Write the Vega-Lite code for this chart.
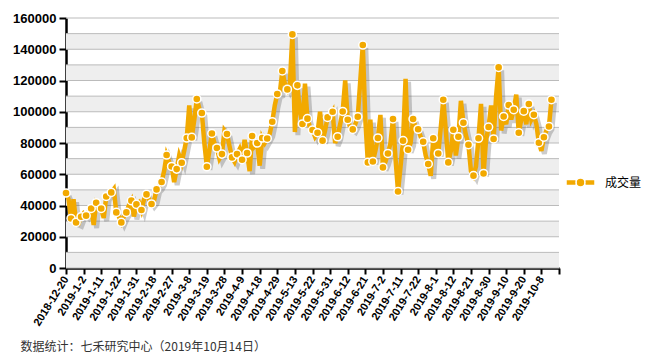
{
  "$schema": "https://vega.github.io/schema/vega-lite/v6.json",
  "width": 493,
  "height": 250,
  "autosize": {"type": "none"},
  "padding": {"left": 66, "top": 18, "right": 94, "bottom": 92},
  "background": "white",
  "config": {
    "view": {"stroke": null},
    "font": "Liberation Sans",
    "axis": {"labelOverlap": false, "labelBound": false, "labelFlush": false}
  },
  "title": {
    "text": "数据统计：七禾研究中心（2019年10月14日）",
    "orient": "bottom",
    "anchor": "start",
    "frame": "bounds",
    "font": "Noto Sans CJK SC",
    "fontSize": 12,
    "fontWeight": "normal",
    "color": "#333333",
    "offset": 15,
    "dx": 8
  },
  "datasets": {
    "bands": [
      {"lo": 0, "hi": 10000}, {"lo": 20000, "hi": 30000}, {"lo": 40000, "hi": 50000},
      {"lo": 60000, "hi": 70000}, {"lo": 80000, "hi": 90000}, {"lo": 100000, "hi": 110000},
      {"lo": 120000, "hi": 130000}, {"lo": 140000, "hi": 150000}
    ],
    "grid": [
      {"g": 0}, {"g": 10000}, {"g": 20000}, {"g": 30000}, {"g": 40000}, {"g": 50000},
      {"g": 60000}, {"g": 70000}, {"g": 80000}, {"g": 90000}, {"g": 100000}, {"g": 110000},
      {"g": 120000}, {"g": 130000}, {"g": 140000}, {"g": 150000}, {"g": 160000}
    ],
    "volume": [
      {"n":0,"v":48000},{"n":1,"v":44000},{"n":2,"v":31700},{"n":3,"v":44000},{"n":4,"v":29200},
      {"n":5,"v":28500},{"n":6,"v":32800},{"n":7,"v":35000},{"n":8,"v":33500},{"n":9,"v":36000},
      {"n":10,"v":38100},{"n":11,"v":27500},{"n":12,"v":41800},{"n":13,"v":40000},{"n":14,"v":38100},
      {"n":15,"v":32000},{"n":16,"v":45800},{"n":17,"v":47000},{"n":18,"v":48400},{"n":19,"v":50500},
      {"n":20,"v":35600},{"n":21,"v":33000},{"n":22,"v":29200},{"n":23,"v":33000},{"n":24,"v":35600},
      {"n":25,"v":40000},{"n":26,"v":43100},{"n":27,"v":33000},{"n":28,"v":40700},{"n":29,"v":42000},
      {"n":30,"v":37100},{"n":31,"v":44000},{"n":32,"v":47100},{"n":33,"v":44000},{"n":34,"v":41000},
      {"n":35,"v":43000},{"n":36,"v":50300},{"n":37,"v":52000},{"n":38,"v":55000},{"n":39,"v":62000},
      {"n":40,"v":72300},{"n":41,"v":68000},{"n":42,"v":65000},{"n":43,"v":55000},{"n":44,"v":63300},
      {"n":45,"v":72000},{"n":46,"v":67400},{"n":47,"v":75000},{"n":48,"v":83200},{"n":49,"v":104000},
      {"n":50,"v":83600},{"n":51,"v":95000},{"n":52,"v":108200},{"n":53,"v":102000},{"n":54,"v":99200},
      {"n":55,"v":80000},{"n":56,"v":64800},{"n":57,"v":75000},{"n":58,"v":86100},{"n":59,"v":80000},
      {"n":60,"v":76800},{"n":61,"v":70000},{"n":62,"v":72900},{"n":63,"v":88000},{"n":64,"v":85800},
      {"n":65,"v":78000},{"n":66,"v":70800},{"n":67,"v":68000},{"n":68,"v":72900},{"n":69,"v":76000},
      {"n":70,"v":69300},{"n":71,"v":82000},{"n":72,"v":73600},{"n":73,"v":62000},{"n":74,"v":84500},
      {"n":75,"v":78000},{"n":76,"v":80000},{"n":77,"v":65500},{"n":78,"v":83200},{"n":79,"v":80000},
      {"n":80,"v":82900},{"n":81,"v":86000},{"n":82,"v":93600},{"n":83,"v":104000},{"n":84,"v":111400},
      {"n":85,"v":112000},{"n":86,"v":126100},{"n":87,"v":118000},{"n":88,"v":114300},{"n":89,"v":118000},
      {"n":90,"v":149500},{"n":91,"v":87000},{"n":92,"v":116900},{"n":93,"v":100000},{"n":94,"v":92200},
      {"n":95,"v":118000},{"n":96,"v":95600},{"n":97,"v":90000},{"n":98,"v":88300},{"n":99,"v":84000},
      {"n":100,"v":86600},{"n":101,"v":100000},{"n":102,"v":81500},{"n":103,"v":88000},{"n":104,"v":96400},
      {"n":105,"v":97000},{"n":106,"v":100000},{"n":107,"v":80000},{"n":108,"v":84000},{"n":109,"v":92000},
      {"n":110,"v":100200},{"n":111,"v":120000},{"n":112,"v":94900},{"n":113,"v":90000},{"n":114,"v":88700},
      {"n":115,"v":92000},{"n":116,"v":96800},{"n":117,"v":120000},{"n":118,"v":142700},{"n":119,"v":95000},
      {"n":120,"v":67600},{"n":121,"v":95000},{"n":122,"v":68200},{"n":123,"v":75000},{"n":124,"v":83200},
      {"n":125,"v":98000},{"n":126,"v":64400},{"n":127,"v":68000},{"n":128,"v":73300},{"n":129,"v":80000},
      {"n":130,"v":95400},{"n":131,"v":70000},{"n":132,"v":49000},{"n":133,"v":65000},{"n":134,"v":81500},
      {"n":135,"v":121000},{"n":136,"v":75700},{"n":137,"v":80000},{"n":138,"v":95400},{"n":139,"v":90000},
      {"n":140,"v":88800},{"n":141,"v":84000},{"n":142,"v":80800},{"n":143,"v":72000},{"n":144,"v":66600},
      {"n":145,"v":59000},{"n":146,"v":83000},{"n":147,"v":78000},{"n":148,"v":73300},{"n":149,"v":90000},
      {"n":150,"v":107700},{"n":151,"v":88000},{"n":152,"v":67600},{"n":153,"v":75000},{"n":154,"v":88500},
      {"n":155,"v":72000},{"n":156,"v":84000},{"n":157,"v":107000},{"n":158,"v":93000},{"n":159,"v":85000},
      {"n":160,"v":78900},{"n":161,"v":62000},{"n":162,"v":59100},{"n":163,"v":65000},{"n":164,"v":83000},
      {"n":165,"v":105000},{"n":166,"v":60500},{"n":167,"v":82000},{"n":168,"v":90200},{"n":169,"v":104000},
      {"n":170,"v":82600},{"n":171,"v":110000},{"n":172,"v":128400},{"n":173,"v":88000},{"n":174,"v":97000},
      {"n":175,"v":92000},{"n":176,"v":104300},{"n":177,"v":95000},{"n":178,"v":101300},{"n":179,"v":111000},
      {"n":180,"v":86600},{"n":181,"v":95000},{"n":182,"v":100400},{"n":183,"v":92000},{"n":184,"v":105000},
      {"n":185,"v":95000},{"n":186,"v":98100},{"n":187,"v":92000},{"n":188,"v":80200},{"n":189,"v":75000},
      {"n":190,"v":83700},{"n":191,"v":88000},{"n":192,"v":90600},{"n":193,"v":107700}
    ]
  },
  "layer": [
    {
      "data": {"name": "bands"},
      "mark": {"type": "rect", "color": "#eeeeee"},
      "encoding": {
        "y": {
          "field": "lo",
          "type": "quantitative",
          "scale": {"domain": [0, 160000], "nice": false},
          "axis": {
            "values": [0, 20000, 40000, 60000, 80000, 100000, 120000, 140000, 160000],
            "tickCount": 100,
            "format": "d",
            "grid": false,
            "title": null,
            "domainColor": "black",
            "domainWidth": 2.5,
            "tickColor": "black",
            "tickWidth": 2,
            "tickSize": 7,
            "labelFont": "Liberation Sans",
            "labelFontSize": 13,
            "labelFontWeight": "bold",
            "labelColor": "black",
            "labelPadding": 3,
            "labelOverlap": false
          }
        },
        "y2": {"field": "hi"}
      }
    },
    {
      "data": {"name": "grid"},
      "mark": {"type": "rule", "color": "#bbbbbb", "strokeWidth": 1},
      "encoding": {
        "y": {"field": "g", "type": "quantitative"}
      }
    },
    {
      "data": {"name": "volume"},
      "mark": {"type": "line", "color": "#555555", "opacity": 0.3, "strokeWidth": 5},
      "encoding": {
        "x": {"field": "n", "type": "quantitative"},
        "y": {"field": "v", "type": "quantitative"},
        "xOffset": {"value": 3},
        "yOffset": {"value": 3}
      }
    },
    {
      "data": {"name": "volume"},
      "mark": {"type": "line", "color": "#F2A900", "strokeWidth": 4.5, "strokeJoin": "miter"},
      "encoding": {
        "x": {
          "field": "n",
          "type": "quantitative",
          "scale": {"domain": [0, 196], "nice": false, "zero": false},
          "axis": {
            "values": [0, 7, 14, 21, 28, 35, 42, 49, 56, 63, 70, 77, 84, 91, 98, 105, 112, 119, 126, 133, 140, 147, 154, 161, 168, 175, 182, 189, 196],
            "tickCount": 100,
            "labelExpr": "['2018-12-20','2019-1-2','2019-1-11','2019-1-22','2019-1-31','2019-2-18','2019-2-27','2019-3-8','2019-3-19','2019-3-28','2019-4-9','2019-4-18','2019-4-29','2019-5-13','2019-5-22','2019-5-31','2019-6-12','2019-6-21','2019-7-2','2019-7-11','2019-7-22','2019-8-1','2019-8-12','2019-8-21','2019-8-30','2019-9-10','2019-9-20','2019-10-8'][round(datum.value / 7)] || ''",
            "labelAngle": -58,
            "labelAlign": "right",
            "labelBaseline": "middle",
            "labelFont": "Liberation Sans",
            "labelFontWeight": "bold",
            "labelFontSize": 11,
            "labelColor": "black",
            "labelOverlap": false,
            "labelBound": false,
            "labelPadding": 3,
            "tickColor": "black",
            "tickWidth": 2,
            "tickSize": 6,
            "domainColor": "black",
            "domainWidth": 2.5,
            "grid": false,
            "title": null
          }
        },
        "y": {"field": "v", "type": "quantitative"}
      }
    },
    {
      "data": {"name": "volume"},
      "transform": [{"filter": "datum.n % 2 == 0 || datum.n == 193"}],
      "mark": {"type": "point", "filled": true, "size": 66, "stroke": "white", "strokeWidth": 1.5, "opacity": 1},
      "encoding": {
        "x": {"field": "n", "type": "quantitative"},
        "y": {"field": "v", "type": "quantitative"},
        "color": {
          "datum": "成交量",
          "scale": {"range": ["#F2A900"]},
          "legend": {
            "orient": "none",
            "legendX": 499,
            "legendY": 149,
            "title": null,
            "padding": 0,
            "symbolType": "M-1,-0.2H-0.3V0.2H-1Z M0.3,-0.2H1V0.2H0.3Z M0.31,0A0.31,0.31,0,1,1,-0.31,0A0.31,0.31,0,1,1,0.31,0Z",
            "symbolSize": 841,
            "symbolStrokeColor": "white",
            "symbolStrokeWidth": 1.5,
            "symbolOpacity": 1,
            "labelFont": "Noto Sans CJK SC",
            "labelFontSize": 12,
            "labelColor": "black",
            "labelOffset": 9
          }
        }
      }
    }
  ]
}
